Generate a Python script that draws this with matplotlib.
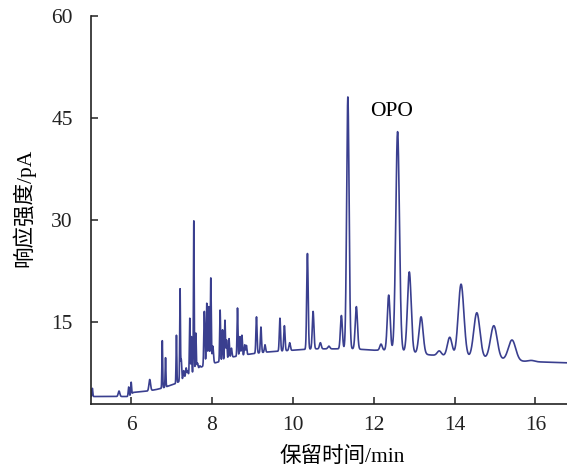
import numpy as np
import matplotlib
matplotlib.use("Agg")
import matplotlib.pyplot as plt

plt.rcParams['font.family'] = ['Liberation Serif', 'Noto Sans CJK SC', 'DejaVu Sans']

# Baseline knots (retention time, pA)
base_t = [5.0, 5.95, 6.05, 6.4, 6.6, 6.75, 6.95, 7.1, 7.35, 7.65, 7.8, 8.05, 8.3, 8.5,
          8.9, 9.3, 9.5, 10.0, 10.5, 11.0, 11.5, 12.0, 12.5, 13.0, 13.4, 13.7, 14.0,
          14.5, 15.0, 15.6, 16.0, 16.78]
base_y = [4.1, 4.1, 4.7, 4.9, 5.1, 5.3, 5.7, 6.0, 6.9, 8.2, 8.6, 9.0, 9.4, 9.9,
          10.3, 10.6, 10.7, 10.9, 11.1, 11.1, 11.1, 10.9, 10.9, 10.5, 10.2, 10.1, 9.9,
          9.8, 9.6, 9.3, 9.2, 9.05]

# Peaks: apex retention time (min), apex response (pA), width (min)
peak_t = [5.04, 5.70, 5.94, 6.00, 6.46, 6.77, 6.85, 7.12, 7.21, 7.24, 7.30, 7.36, 7.40,
          7.45, 7.49, 7.55, 7.60, 7.64, 7.70, 7.81, 7.87, 7.92, 7.97, 8.02, 8.20, 8.26, 8.32,
          8.36, 8.42, 8.48, 8.63, 8.69, 8.74, 8.81, 8.85, 9.10, 9.21, 9.31, 9.68, 9.79,
          9.92, 10.36, 10.50, 10.68, 10.89, 11.20, 11.36, 11.57, 12.18, 12.37,
          12.59, 12.88, 13.17, 13.62, 13.88, 14.16, 14.55, 14.97, 15.42, 15.90]
peak_y = [5.3, 4.9, 5.5, 6.2, 6.6, 12.3, 9.8, 13.1, 19.9, 9.5, 7.9, 8.3, 7.8,
          15.6, 12.9, 29.9, 13.4, 9.0, 8.6, 16.6, 17.8, 17.3, 21.5, 11.5, 16.8, 13.9, 15.3,
          12.4, 12.6, 11.2, 17.1, 12.9, 13.1, 11.7, 11.6, 15.8, 14.3, 11.7, 15.6, 14.5,
          12.0, 25.1, 16.6, 12.0, 11.5, 16.0, 48.1, 17.3, 11.8, 19.0,
          43.0, 22.4, 15.8, 10.8, 12.8, 20.6, 16.4, 14.5, 12.4, 9.4]
peak_w = [0.010, 0.020, 0.012, 0.010, 0.020, 0.009, 0.009, 0.009, 0.009, 0.010, 0.014, 0.014, 0.012,
          0.010, 0.009, 0.009, 0.010, 0.014, 0.014, 0.013, 0.012, 0.012, 0.011, 0.016, 0.011, 0.011, 0.011,
          0.012, 0.012, 0.014, 0.011, 0.012, 0.012, 0.012, 0.012, 0.014, 0.014, 0.015, 0.015, 0.016,
          0.018, 0.018, 0.020, 0.022, 0.025, 0.024, 0.030, 0.028, 0.030, 0.034,
          0.045, 0.046, 0.050, 0.050, 0.058, 0.070, 0.076, 0.082, 0.090, 0.080]

x_ticks = [6, 8, 10, 12, 14, 16]
y_ticks = [15, 30, 45, 60]
x_label = "保留时间/min"
y_label = "响应强度/pA"
annot_text = "OPO"
annot_pos = (12.44, 46.0)

t = np.arange(5.0, 16.78, 0.002)
signal = np.interp(t, base_t, base_y)
for pt, py, pw in zip(peak_t, peak_y, peak_w):
    amp = py - np.interp(pt, base_t, base_y)
    signal = signal + amp * np.exp(-0.5 * ((t - pt) / pw) ** 2)

fig = plt.figure(figsize=(5.67, 4.69), dpi=100)
ax = fig.add_axes([0.160, 0.1386, 0.840, 0.8274])
ax.plot(t, signal, color='#3a3f8f', lw=1.2)

ax.set_xlim(5.0, 16.78)
ax.set_ylim(3.0, 60.0)
ax.set_xticks(x_ticks)
ax.set_yticks(y_ticks)
ax.spines['top'].set_visible(False)
ax.spines['right'].set_visible(False)
for s in ('left', 'bottom'):
    ax.spines[s].set_linewidth(1.2)
    ax.spines[s].set_color('#222222')
ax.tick_params(axis='both', direction='in', length=5, width=1.1, labelsize=15.5, colors='#222222')
ax.tick_params(axis='x', pad=9)
ax.tick_params(axis='y', pad=13)

ax.set_xlabel(x_label, fontsize=15.5)
ax.xaxis.set_label_coords(0.527, -0.11)
ax.set_ylabel(y_label, fontsize=15.5)
ax.yaxis.set_label_coords(-0.117, 0.506)

ax.text(annot_pos[0], annot_pos[1], annot_text, fontsize=15.5, ha='center', va='center')

fig.savefig('out.png', dpi=100)
